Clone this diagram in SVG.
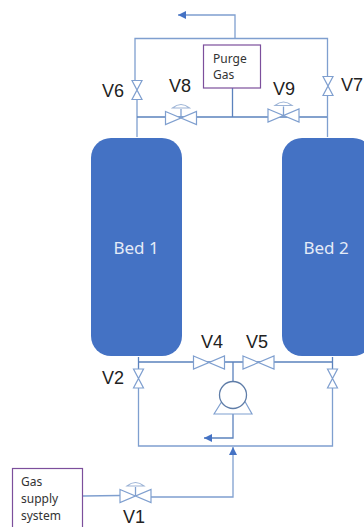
<svg xmlns="http://www.w3.org/2000/svg" width="364" height="527" viewBox="0 0 364 527">
<defs>
<marker id="ah" markerUnits="userSpaceOnUse" markerWidth="9" markerHeight="8" refX="8" refY="4" orient="auto"><path d="M0 0L8 4L0 8z" fill="#4472c4"/></marker>
<g id="vh"><path d="M-15.500 -6.500L15.500 6.500V-6.500L-15.500 6.500z" fill="#fff" stroke="#7f9fcf" stroke-width="1.2"/></g>
<g id="vv"><path d="M-5 -9.500H5L-5 9.500H5z" fill="#fff" stroke="#7f9fcf" stroke-width="1.2"/></g>
<g id="stem"><path d="M0 0V-9" class="ln"/><path d="M-8.500 -10Q0 -17 8.500 -10z" fill="#fff" stroke="#9db4d6" stroke-width="1.2"/></g>
</defs>
<style>
.ln{fill:none;stroke:#7f9fcf;stroke-width:1.3}
.dk{fill:none;stroke:#5b82bd;stroke-width:1.3}
.bed{fill:#4472c4}
.box{fill:#fff;stroke:#7c4f9c;stroke-width:1.2}
.lab{font:18px "Liberation Sans",Arial,sans-serif;fill:#222}
.small{font:12px "Noto Sans","Liberation Sans",sans-serif;fill:#333}
.bedt{font:17px "Noto Sans","Liberation Sans",sans-serif;fill:#e4ebf7;text-anchor:middle}
</style>
<rect width="364" height="527" fill="#fff"/>
<g id="connectors">
<path class="ln" d="M235 38V15H178" marker-end="url(#ah)"/>
<path class="ln" d="M135 81V38.500H327.500V77"/>
<path class="ln" d="M137 99V137M327.500 95V137"/>
<path class="dk" d="M137 117H327M232.500 88V117"/>
<path class="ln" d="M138.500 388V446H332.500V388"/>
<path class="dk" d="M138.500 357V369M332.500 357V369M138.500 362H332.500M233 362V385"/>
<path class="dk" d="M233 414V438H204" marker-end="url(#ah)"/>
<path class="ln" d="M83 496L120 495.500M150 497H233V447" marker-end="url(#ah)"/>
</g>
<g id="bed1"><rect class="bed" x="91" y="138" width="91" height="218" rx="20"/><text class="bedt" x="136" y="254">Bed 1</text></g>
<g id="bed2"><rect class="bed" x="282" y="138" width="91" height="218" rx="20"/><text class="bedt" x="326" y="254">Bed 2</text></g>
<g id="purge"><rect class="box" x="203.500" y="45" width="57" height="43"/><text class="small" x="213" y="63">Purge</text><text class="small" x="213" y="79">Gas</text></g>
<g id="supply"><rect class="box" x="12.500" y="468.500" width="70" height="60"/><text class="small" x="21" y="486">Gas</text><text class="small" x="21" y="503">supply</text><text class="small" x="21" y="520">system</text></g>
<g id="v6"><use href="#vv" x="137" y="90"/><text class="lab" x="102" y="97">V6</text></g>
<g id="v7"><use href="#vv" x="328" y="86"/><text class="lab" x="341" y="91">V7</text></g>
<g id="v8"><use href="#vh" x="181" y="118"/><use href="#stem" x="181" y="118"/><text class="lab" x="169" y="92">V8</text></g>
<g id="v9"><use href="#vh" x="283.500" y="115.500"/><use href="#stem" x="283.500" y="115.500"/><text class="lab" x="273" y="95">V9</text></g>
<g id="v4"><use href="#vh" x="209" y="362.500"/><text class="lab" x="201" y="348">V4</text></g>
<g id="v5"><use href="#vh" x="258.500" y="362.500"/><text class="lab" x="246" y="348">V5</text></g>
<g id="v2"><use href="#vv" x="138.500" y="378.500"/><text class="lab" x="102" y="384">V2</text></g>
<g id="v3"><use href="#vv" x="332.500" y="378.500"/></g>
<g id="v1"><use href="#vh" x="135.500" y="496"/><use href="#stem" x="135.500" y="496"/><text class="lab" x="123" y="522.500">V1</text></g>
<g id="pump"><path d="M214 414L224 398H243L252 414z" fill="#fff" stroke="#7f9fcf" stroke-width="1.2"/><circle cx="233" cy="395" r="13.500" fill="#fff" stroke="#5f7da8" stroke-width="1.3"/></g>
</svg>
